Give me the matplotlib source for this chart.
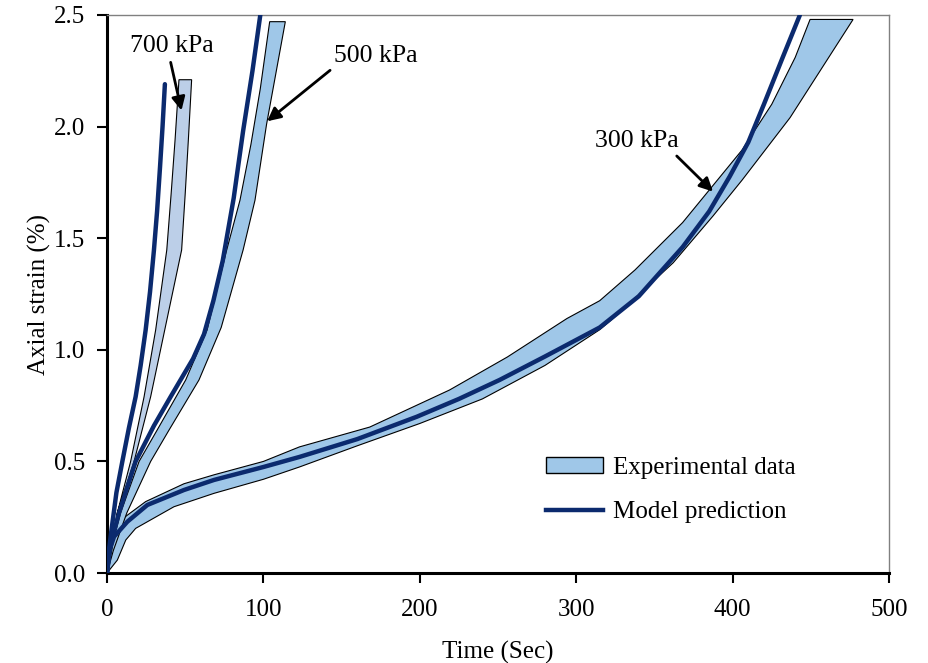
import matplotlib
matplotlib.use("Agg")
import matplotlib.pyplot as plt
from matplotlib.patches import Patch
from matplotlib.lines import Line2D

plt.rcParams["font.family"] = ["Liberation Serif", "DejaVu Serif"]

# 300 kPa experimental band (upper and lower edges) and model
t300_up = [0, 2, 8.7, 24.7, 49.2, 68.4, 100, 123, 168, 219, 256, 294, 315, 337.6, 368, 406, 425, 440, 449.5]
s300_up = [0, 0.17, 0.237, 0.32, 0.40, 0.44, 0.50, 0.565, 0.654, 0.82, 0.968, 1.14, 1.22, 1.358, 1.57, 1.895, 2.10, 2.31, 2.48]
t300_lo = [0, 6.6, 12, 18.3, 42.8, 68.4, 100, 123, 160, 200, 240, 280, 315, 323.5, 362, 387.5, 406, 436.7, 477]
s300_lo = [0, 0.058, 0.148, 0.20, 0.297, 0.357, 0.42, 0.475, 0.57, 0.67, 0.78, 0.93, 1.09, 1.14, 1.39, 1.60, 1.76, 2.04, 2.48]
t300_mod = [0, 1.5, 4.5, 13, 25.8, 49.2, 68.4, 100, 123, 160, 198, 225, 251, 280, 315, 340, 368, 385, 398, 410, 420, 432, 443]
s300_mod = [0, 0.10, 0.163, 0.23, 0.305, 0.372, 0.417, 0.475, 0.52, 0.60, 0.70, 0.78, 0.865, 0.97, 1.10, 1.24, 1.46, 1.62, 1.775, 1.93, 2.10, 2.31, 2.5]

# 500 kPa
t500_up = [0, 3, 8.7, 20.5, 32, 50.3, 64, 76.5, 85, 92, 98, 104]
s500_up = [0, 0.12, 0.27, 0.50, 0.64, 0.865, 1.089, 1.447, 1.67, 1.92, 2.17, 2.47]
t500_lo = [0, 4, 12.7, 27.9, 39.6, 58.8, 73, 87, 94.6, 102, 114]
s500_lo = [0, 0.10, 0.27, 0.50, 0.64, 0.865, 1.10, 1.447, 1.67, 2.01, 2.47]
t500_mod = [0, 2, 7.7, 18.3, 30, 40.7, 47, 55, 62, 68, 74, 81, 87, 93, 98]
s500_mod = [0, 0.12, 0.27, 0.50, 0.66, 0.79, 0.865, 0.96, 1.07, 1.22, 1.40, 1.68, 1.98, 2.25, 2.5]

# 700 kPa
t700_up = [0, 2, 6.6, 15.1, 23.7, 31.1, 38.2, 41, 43.5, 46]
s700_up = [0, 0.10, 0.27, 0.50, 0.79, 1.089, 1.447, 1.70, 1.94, 2.21]
t700_lo = [0, 3, 6.6, 17.3, 27.9, 36.9, 47.7, 50, 52, 54.1]
s700_lo = [0, 0.10, 0.27, 0.50, 0.79, 1.089, 1.447, 1.70, 1.94, 2.21]
t700_mod = [0, 1, 2.8, 6, 9.8, 14, 18.3, 21.5, 24.7, 27.5, 30, 32, 33.9, 35.5, 37]
s700_mod = [0, 0.09, 0.19, 0.36, 0.50, 0.65, 0.79, 0.93, 1.089, 1.26, 1.447, 1.62, 1.82, 2.0, 2.19]

band_color = "#9fc7e8"
band_color_700 = "#bccfe8"
line_color = "#0b2a6e"

fig = plt.figure(figsize=(9.29, 6.63), dpi=100)
ax = fig.add_axes([0.1152, 0.1357, 0.8418, 0.8417])


def band(t_up, s_up, t_lo, s_lo, color):
    xs = list(t_up) + list(t_lo)[::-1]
    ys = list(s_up) + list(s_lo)[::-1]
    ax.fill(xs, ys, facecolor=color, edgecolor="black", linewidth=0.8, zorder=2)


band(t300_up, s300_up, t300_lo, s300_lo, band_color)
band(t500_up, s500_up, t500_lo, s500_lo, band_color)
band(t700_up, s700_up, t700_lo, s700_lo, band_color_700)

for t, s in [(t300_mod, s300_mod), (t500_mod, s500_mod), (t700_mod, s700_mod)]:
    ax.plot(t, s, color=line_color, linewidth=3.2, solid_capstyle="round",
            solid_joinstyle="round", zorder=3)

# annotations
arrow = dict(arrowstyle="-|>,head_length=0.8,head_width=0.4", color="black", lw=2)
ax.text(41.6, 2.36, "700 kPa", fontsize=18.5, ha="center", va="center")
ax.annotate("", xy=(48, 2.06), xytext=(40.3, 2.30), arrowprops=arrow)
ax.text(172, 2.315, "500 kPa", fontsize=18.5, ha="center", va="center")
ax.annotate("", xy=(101, 2.016), xytext=(144, 2.26), arrowprops=arrow)
ax.text(339, 1.935, "300 kPa", fontsize=18.5, ha="center", va="center")
ax.annotate("", xy=(388.7, 1.70), xytext=(363, 1.877), arrowprops=arrow)

ax.set_xlim(0, 500)
ax.set_ylim(0, 2.5)
ax.set_xticks([0, 100, 200, 300, 400, 500])
ax.set_yticks([0, 0.5, 1.0, 1.5, 2.0, 2.5])
ax.set_yticklabels(["0.0", "0.5", "1.0", "1.5", "2.0", "2.5"])
ax.tick_params(direction="out", length=7, width=1.5, labelsize=18)
ax.tick_params(axis="y", pad=9)
ax.tick_params(axis="x", pad=12)

for side in ["left", "bottom"]:
    ax.spines[side].set_linewidth(2.2)
    ax.spines[side].set_color("black")
for side in ["top", "right"]:
    ax.spines[side].set_linewidth(1)
    ax.spines[side].set_color("#808080")

ax.set_xlabel("Time (Sec)", fontsize=18, labelpad=14)
ax.set_ylabel("Axial strain (%)", fontsize=18, labelpad=2)

handles = [
    Patch(facecolor=band_color, edgecolor="black", linewidth=1),
    Line2D([0], [0], color=line_color, linewidth=3.2),
]
ax.legend(handles, ["Experimental data", "Model prediction"], loc="center left",
          bbox_to_anchor=(0.532, 0.149), frameon=False, fontsize=18,
          handlelength=2.3, handleheight=0.65, labelspacing=0.9, handletextpad=0.4)

fig.savefig("out.png", dpi=100)
